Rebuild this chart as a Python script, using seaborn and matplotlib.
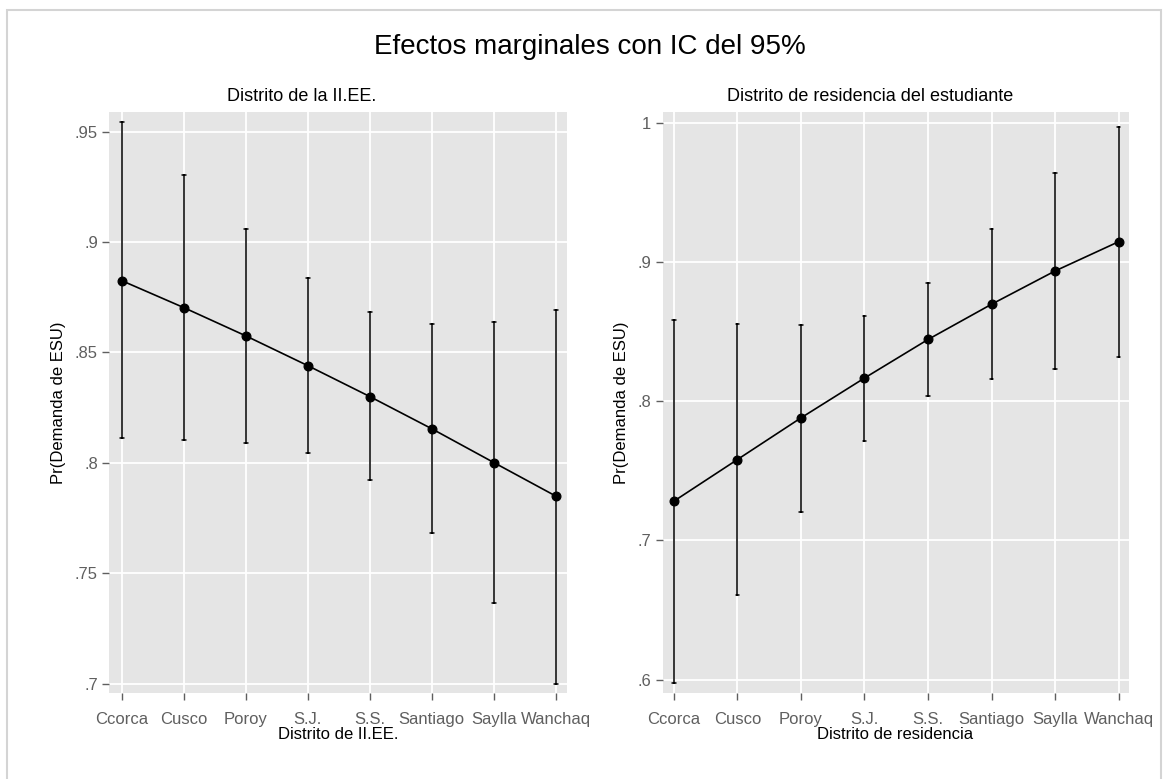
import numpy as np
import pandas as pd
import matplotlib
matplotlib.use("Agg")
import matplotlib.pyplot as plt
import seaborn as sns
from matplotlib.patches import Rectangle

# Districts shown on both panels
districts = ["Ccorca", "Cusco", "Poroy", "S.J.", "S.S.", "Santiago", "Saylla", "Wanchaq"]

# Panel 1: district of the school (II.EE.)
school_est = [0.8825, 0.8703, 0.8575, 0.8440, 0.8300, 0.8154, 0.8001, 0.7849]
school_lo = [0.8110, 0.8103, 0.8089, 0.8044, 0.7920, 0.7684, 0.7363, 0.6996]
school_hi = [0.9543, 0.9304, 0.9061, 0.8836, 0.8681, 0.8627, 0.8638, 0.8694]

# Panel 2: district of residence of the student
res_est = [0.7282, 0.7581, 0.7880, 0.8166, 0.8443, 0.8696, 0.8935, 0.9145]
res_lo = [0.5979, 0.6605, 0.7204, 0.7717, 0.8037, 0.8158, 0.8233, 0.8319]
res_hi = [0.8582, 0.8557, 0.8550, 0.8614, 0.8846, 0.9234, 0.9637, 0.9968]

school_yticks = [0.70, 0.75, 0.80, 0.85, 0.90, 0.95]
school_yticklabels = [".7", ".75", ".8", ".85", ".9", ".95"]
res_yticks = [0.6, 0.7, 0.8, 0.9, 1.0]
res_yticklabels = [".6", ".7", ".8", ".9", "1"]

title = "Efectos marginales con IC del 95%"
panel_titles = ["Distrito de la II.EE.", "Distrito de residencia del estudiante"]
xlabels = ["Distrito de II.EE.", "Distrito de residencia"]
ylabel = "Pr(Demanda de ESU)"

sns.set_theme(style="darkgrid")
plt.rcParams["font.family"] = ["Liberation Sans", "DejaVu Sans"]

BG = "#e5e5e5"
TICK_GRAY = "#5f5f5f"


def long_frame(est, lo, hi):
    # three rows per district: lower bound, estimate, upper bound
    rows = []
    for d, e, l, h in zip(districts, est, lo, hi):
        rows += [(d, l), (d, e), (d, h)]
    return pd.DataFrame(rows, columns=["district", "value"])


fig = plt.figure(figsize=(11.64, 7.79), dpi=100)
fig.patch.set_facecolor("white")
fig.patches.append(Rectangle((7 / 1164, -0.01), 1154 / 1164, 1 - 10 / 779 + 0.01,
                             transform=fig.transFigure, fill=False,
                             edgecolor="#d4d4d4", linewidth=1.5))

ax1 = fig.add_axes([109 / 1164, 1 - 693 / 779, 458 / 1164, 581 / 779])
ax2 = fig.add_axes([662.5 / 1164, 1 - 693 / 779, 466 / 1164, 581 / 779])

panels = [
    (ax1, school_est, school_lo, school_hi, school_yticks, school_yticklabels,
     (0.6957, 0.9589), (-0.205, 7.18), 0.421),
    (ax2, res_est, res_lo, res_hi, res_yticks, res_yticklabels,
     (0.5904, 1.0077), (-0.18, 7.157), 0.445),
]

for i, (ax, est, lo, hi, yt, ytl, ylim, xlim, tx) in enumerate(panels):
    df = long_frame(est, lo, hi)
    sns.pointplot(data=df, x="district", y="value", order=districts, ax=ax,
                  estimator="median", errorbar=lambda v: (v.min(), v.max()),
                  color="black", markers="o", markersize=6.3, linewidth=1.2,
                  capsize=0.06, err_kws={"linewidth": 1.1, "color": "black"})
    ax.set_facecolor(BG)
    ax.grid(True, color="white", linewidth=1.3)
    ax.set_axisbelow(True)
    for s in ax.spines.values():
        s.set_visible(False)
    ax.set_ylim(*ylim)
    ax.set_xlim(*xlim)
    ax.set_yticks(yt)
    ax.set_yticklabels(ytl)
    ax.set_xticks(range(len(districts)))
    ax.set_xticklabels(districts)
    ax.tick_params(axis="both", which="major", length=5, width=1.0, color=TICK_GRAY,
                   labelcolor=TICK_GRAY, labelsize=12, pad=3, direction="out",
                   bottom=True, left=True)
    ax.tick_params(axis="x", pad=9)
    ax.set_xlabel(xlabels[i], fontsize=12, color="black", labelpad=0)
    ax.set_ylabel(ylabel, fontsize=12, color="black", labelpad=6)
    ax.set_title(panel_titles[i], fontsize=13, color="black", x=tx, pad=8)

fig.text(0.507, 1 - 47 / 779, title, ha="center", va="center", fontsize=20, color="black")

fig.savefig("out.png", dpi=100, facecolor="white")
